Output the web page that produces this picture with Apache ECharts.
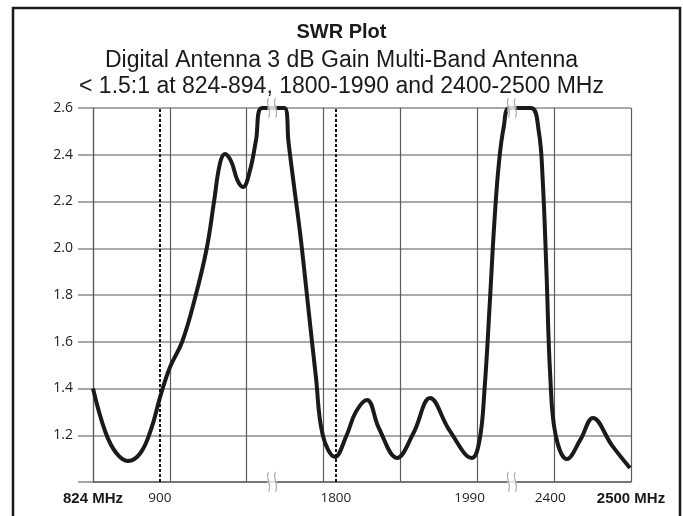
<!DOCTYPE html>
<html><head><meta charset="utf-8">
<script src="https://cdn.jsdelivr.net/npm/echarts@6/dist/echarts.min.js"></script>
<style>html,body{margin:0;padding:0;background:#fff}#c{width:683px;height:516px}</style>
</head><body><div id="c"></div>
<script>
const titleText = 'SWR Plot';
const subtitleLines = ['Digital Antenna 3 dB Gain Multi-Band Antenna', '< 1.5:1 at 824-894, 1800-1990 and 2400-2500 MHz'];

// Schematic (broken) frequency axis: x expressed in axis grid units 0..7
const curveX = [0, 0.16, 0.3, 0.455, 0.62, 0.76, 0.87, 1.0, 1.16, 1.33, 1.48, 1.575, 1.65, 1.717, 1.80, 1.88, 1.952, 2.04, 2.12, 2.20, 2.49,
  2.545, 2.61, 2.70, 2.80, 2.90, 2.99, 3.149,
  3.30, 3.42, 3.565, 3.72, 3.955, 4.17, 4.385, 4.64, 4.931,
  5.03, 5.095, 5.16, 5.22, 5.28, 5.345, 5.42, 5.70,
  5.80, 5.85, 5.90, 5.95, 6.02, 6.167,
  6.34, 6.505, 6.75, 6.987];
const curveSWR = [1.40, 1.215, 1.125, 1.09, 1.125, 1.23, 1.36, 1.49, 1.60, 1.79, 2.0, 2.2, 2.36, 2.403, 2.37, 2.29, 2.262, 2.33, 2.46, 2.6, 2.6,
  2.45, 2.28, 2.05, 1.75, 1.45, 1.2, 1.107,
  1.2, 1.30, 1.351, 1.23, 1.103, 1.21, 1.359, 1.22, 1.103,
  1.18, 1.40, 1.75, 2.1, 2.36, 2.52, 2.6, 2.6,
  2.5, 2.3, 1.9, 1.45, 1.2, 1.098,
  1.18, 1.274, 1.158, 1.06];

const xTickLabels = ['824 MHz', '900', '1800', '1990', '2400', '2500 MHz'];
const xTickPos = [0, 0.87, 3.16, 4.9, 5.95, 7];
const boldTicks = ['824 MHz', '2500 MHz'];
const bandEdgePos = [0.87, 3.16];
const axisBreakPos = [2.33, 5.45];
const yMin = 1.0, yMax = 2.6, yStep = 0.2;

const curve = curveX.map((x, i) => [x, curveSWR[i]]);
const breakPts = [];
axisBreakPos.forEach(x => { breakPts.push([x, yMax]); breakPts.push([x, yMin]); });

const chart = echarts.init(document.getElementById('c'));
chart.setOption({
  animation: false,
  backgroundColor: '#fff',
  graphic: [{
    type: 'rect', shape: { x: 13, y: 8, width: 667, height: 530 },
    style: { fill: 'none', stroke: '#1a1a1a', lineWidth: 2.5 }, silent: true
  }],
  title: [
    { text: titleText, left: 'center', top: 22, padding: 0,
      textStyle: { fontFamily: 'Liberation Sans', fontSize: 20, fontWeight: 'bold', color: '#1a1a1a' } },
    { text: subtitleLines.join('\n'), left: 'center', top: 48, padding: 0,
      textStyle: { fontFamily: 'Liberation Sans', fontSize: 23, fontWeight: 'normal', lineHeight: 26, color: '#1a1a1a' } }
  ],
  grid: { left: 93, right: 52, top: 108, bottom: 34, containLabel: false },
  xAxis: {
    type: 'value', min: 0, max: 7, interval: 1,
    axisLine: { show: true, lineStyle: { color: '#666', width: 1.5 } },
    axisTick: { show: false },
    splitLine: { show: true, lineStyle: { color: '#5a5a5a', width: 1.2 } },
    axisLabel: {
      customValues: xTickPos,
      margin: 9,
      fontFamily: 'Open Sans', fontSize: 13.5, color: '#222',
      formatter: v => {
        let bi = 0;
        xTickPos.forEach((p, i) => { if (Math.abs(p - v) < Math.abs(xTickPos[bi] - v)) bi = i; });
        const t = xTickLabels[bi];
        return boldTicks.includes(t) ? '{b|' + t + '}' : t;
      },
      rich: { b: { fontFamily: 'Liberation Sans', fontWeight: 'bold', fontSize: 15, color: '#1a1a1a' } }
    }
  },
  yAxis: {
    type: 'value', min: yMin, max: yMax, interval: yStep,
    axisLine: { show: true, lineStyle: { color: '#5a5a5a', width: 1.2 } },
    axisTick: { show: true, inside: false, length: 15, lineStyle: { color: '#8c8c8c', width: 1.5 } },
    splitLine: { show: true, lineStyle: { color: '#8c8c8c', width: 1.5 } },
    axisLabel: {
      margin: 20, fontFamily: 'Open Sans', fontSize: 14, color: '#222',
      formatter: v => (Math.abs(v - yMin) < 1e-6 ? '' : v.toFixed(1))
    }
  },
  series: [
    {
      type: 'line', data: curve, smooth: 0.4, showSymbol: false,
      lineStyle: { color: '#1a1a1a', width: 4 }, z: 3,
      markLine: {
        silent: true, symbol: ['none', 'none'], label: { show: false },
        lineStyle: { type: [3, 2], color: '#111', width: 2 },
        data: bandEdgePos.map(x => ({ xAxis: x }))
      }
    },
    {
      type: 'scatter', data: breakPts, symbol: 'rect', symbolSize: [9, 8], clip: false, silent: true, z: 5,
      itemStyle: { color: '#fff' }
    },
    {
      type: 'scatter', data: breakPts, clip: false, silent: true, z: 6,
      symbol: 'path://M3,0 C0,5 6,13 3,20 M9,0 C6,5 12,13 9,20', symbolSize: [9, 19],
      itemStyle: { color: 'rgba(0,0,0,0)', borderColor: '#999', borderWidth: 1.8 }
    }
  ]
});
</script></body></html>
